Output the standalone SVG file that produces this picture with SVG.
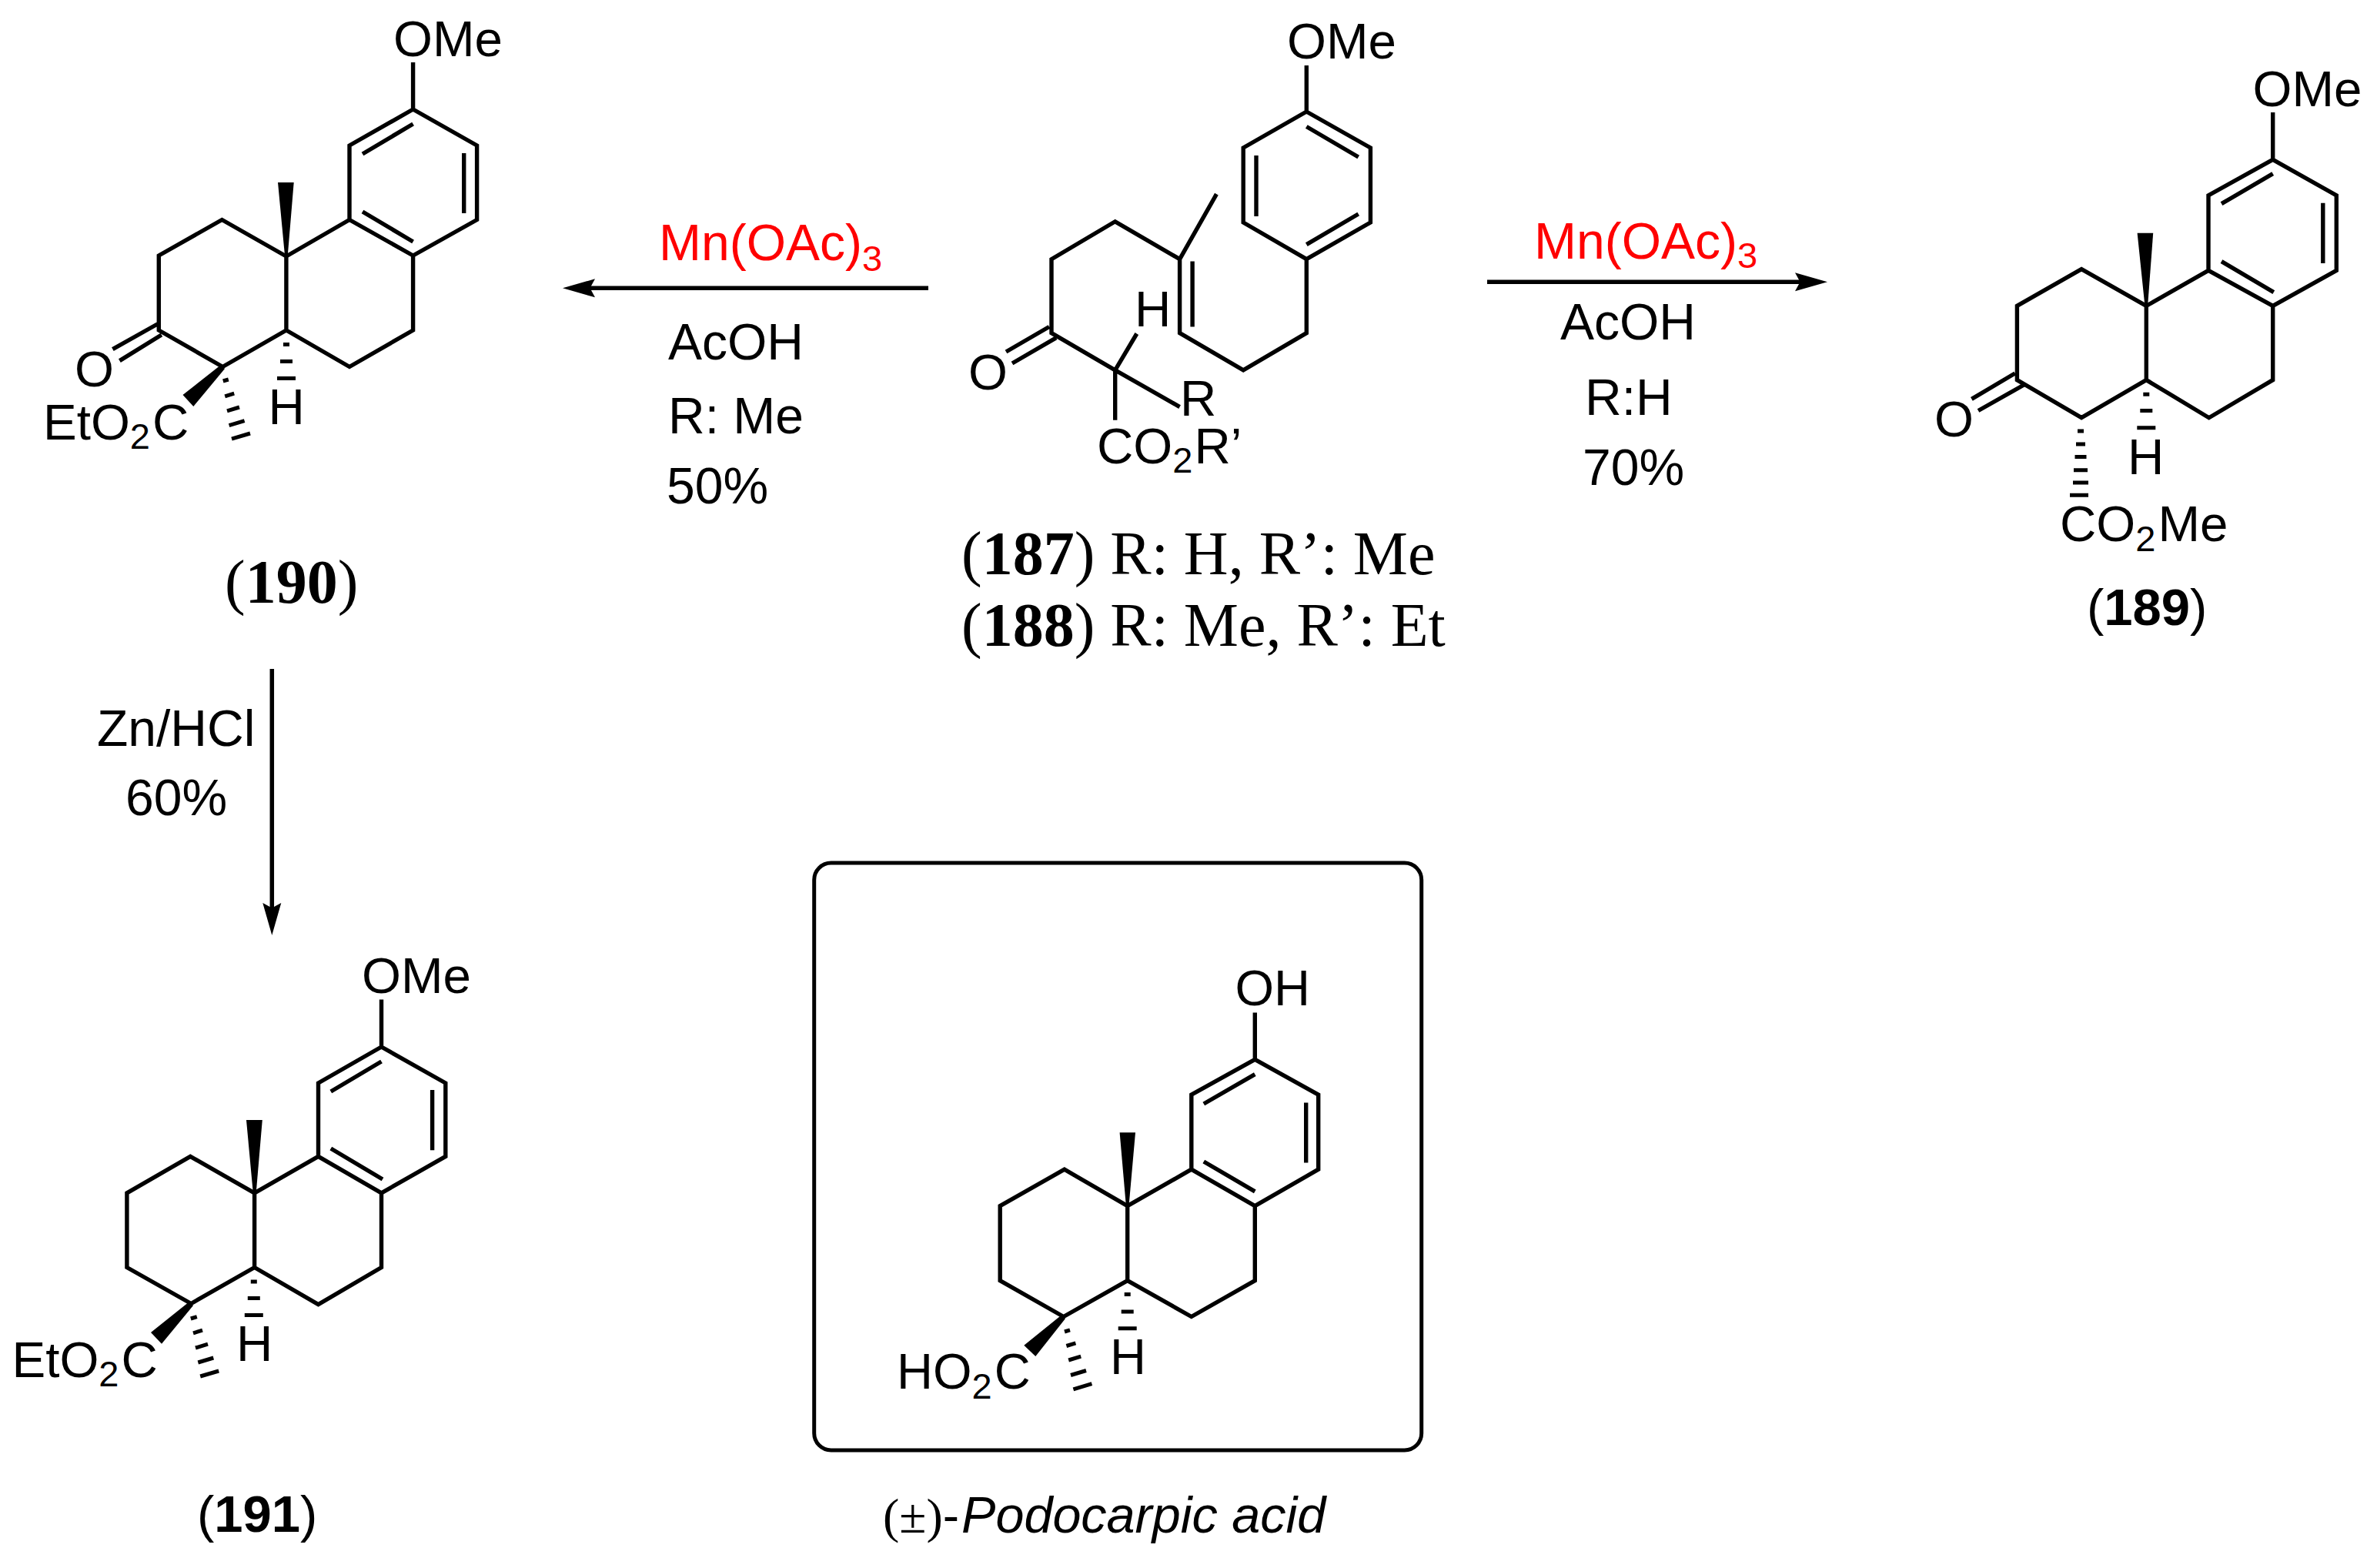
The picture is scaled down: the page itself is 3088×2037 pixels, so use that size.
<svg xmlns="http://www.w3.org/2000/svg" width="3088" height="2037" viewBox="0 0 3088 2037">
<style>
text{font-family:"Liberation Sans",Arial,sans-serif;font-size:65.5px;fill:#000}
.b{fill:none;stroke:#000;stroke-width:5.4;stroke-linejoin:miter;stroke-linecap:butt}
.h{fill:none;stroke:#000;stroke-width:5}
.w{fill:#000;stroke:none}
.r{font-size:66px}
.red{fill:#f00}
.sub{font-size:47px}
.t{font-family:"Liberation Serif","Times New Roman",serif;font-size:80px}
.tb{font-weight:bold}
.ab{font-size:67px}
.arrow{fill:none;stroke:#000;stroke-width:5.5}
</style>
<defs>
<marker id="head" markerUnits="userSpaceOnUse" markerWidth="44" markerHeight="26" viewBox="0 0 44 26" refX="7" refY="13" orient="auto">
<path d="M0,1 L6.5,13 L0,25 L42,13 Z" fill="#000"/>
</marker>
</defs>
<rect width="3088" height="2037" fill="#fff"/>

<g id="compound-190">
<path class="b" d="M536.6,81V142L619.6,189V285.5L536.6,332L454,285.5V189L536.6,142M536.6,161L471,200M602.7,199V277M471,275L536.6,314M454,285.5L371.9,333L288.4,285.5L206.3,332V429L289.3,476.5L371.9,429V333M371.9,429L454,476.5L536.6,429V332M206.3,420L146.4,453.6M209.8,435L155.4,468.6"/>
<polygon class="w" points="361,237 381.7,237 373.5,335 370.3,335"/>
<polygon class="w" points="287,474 292,479 251.3,528 237.5,513"/>
<path class="h" d="M368,447.6H376M364,469.4H380M360,491.5H384M289.8,495L296.8,493M292.2,514.8L304.2,511.2M295,533.8L311,529M297.6,552.6L317.6,546.6M301,570.2L325,563"/>
<text x="511" y="73">OMe</text>
<text x="97" y="502">O</text>
<text x="348.5" y="551">H</text>
<text x="56" y="571">EtO<tspan class="sub" dy="12">2</tspan><tspan dy="-12" dx="3">C</tspan></text>
</g>

<g id="compound-187-188">
<path class="b" d="M1697.3,85V145L1780.4,192V289L1697.3,336.7L1615.2,289V192L1697.3,145M1697.3,164.5L1764.7,204M1632,202V281M1764.7,278L1697.3,317.6M1697.3,336.7V432.7L1615.2,480.8L1532.6,432.7V336.7M1549.1,339.6V424.5M1532.6,336.7L1580.4,252.2M1532.6,336.7L1448.7,287.8L1366,336.7V432.7L1448.7,480.8M1363,424.5L1307,457M1372,438.8L1315,472M1448.7,480.8L1476.8,433.5M1448.7,480.8L1532.6,528.6M1448.7,480.8V545.7"/>
<text x="1672" y="76">OMe</text>
<text x="1258" y="506">O</text>
<text x="1474" y="423.7">H</text>
<text x="1533" y="539.6">R</text>
<text x="1425" y="602">CO<tspan class="sub" dy="12">2</tspan><tspan dy="-12" dx="2">R’</tspan></text>
<text class="t" x="1249" y="745.7">(<tspan class="tb">187</tspan>) R: H, R’: Me</text>
<text class="t" x="1249" y="839.3">(<tspan class="tb">188</tspan>) R: Me, R’: Et</text>
</g>

<g id="compound-189">
<path class="b" d="M2952.7,145.9V207.4L3035.3,253.8V351.4L2952.7,397.4L2869,351.4V253.8L2952.7,207.4M2952.7,225.7L2886,264.7M3017.8,263.8V341.9M2886,339.7L2953.8,379.6M2869,351.4L2788.3,397.4L2704.1,349.7L2620.4,397.4V493.6L2704.1,542.7L2788.3,493.6V397.4M2788.3,493.6L2869.7,542.7L2952.7,493.6V397.4M2617.7,485L2561.4,518.4M2629.3,500L2570,533.5"/>
<polygon class="w" points="2776.6,302.8 2797.2,302.8 2790,399 2786.6,399"/>
<path class="h" d="M2784.3,512.3H2792.3M2780.3,533.5H2796.3M2776.3,555.7H2800.3M2699,560H2707M2697,577H2709M2695.5,593.4H2710.5M2694,610.7H2712M2693,627H2713M2689,643.3H2713"/>
<text x="2926.5" y="138">OMe</text>
<text x="2513" y="567">O</text>
<text x="2764" y="616">H</text>
<text x="2676" y="703">CO<tspan class="sub" dy="13">2</tspan><tspan dy="-13" dx="3">Me</tspan></text>
<text class="ab" x="2711" y="811.7">(<tspan class="tb">189</tspan>)</text>
</g>

<g id="label-190"><text class="t" x="292" y="782.8">(<tspan class="tb">190</tspan>)</text></g>

<g id="compound-191">
<path class="b" d="M495.5,1298.4V1360L578.8,1407V1502.4L495.5,1549.8L413.5,1502.4V1407L495.5,1360M495.5,1379L429.8,1418M561.6,1416V1494.3M429.8,1492L497,1532M413.5,1502.4L330.6,1549.8L247.3,1502.4L164.9,1549.8V1646.5L248.2,1693.5L330.6,1646.5V1549.8M330.6,1646.5L413.5,1694.7L495.5,1646.5V1549.8"/>
<polygon class="w" points="320,1455 340.8,1455 332.5,1552 329,1552"/>
<polygon class="w" points="246,1691 251,1696 210,1745.7 196,1731"/>
<path class="h" d="M325.8,1665H333.8M321.8,1686.5H337.8M317.8,1708.6H341.8M247.8,1713L255.8,1710.6M251,1731.8L263,1728.2M254,1751L270,1746.2M257.3,1770L277.3,1764M260.2,1788L284.2,1781"/>
<text x="470" y="1290">OMe</text>
<text x="307" y="1768">H</text>
<text x="15.5" y="1788.6">EtO<tspan class="sub" dy="12">2</tspan><tspan dy="-12" dx="3">C</tspan></text>
<text class="ab" x="256" y="1990">(<tspan class="tb">191</tspan>)</text>
</g>

<g id="podocarpic-acid">
<rect x="1057.7" y="1121" width="789" height="763" rx="22" ry="22" fill="none" stroke="#000" stroke-width="5"/>
<path class="b" d="M1630.3,1315.6V1376.3L1712.7,1422.2V1519.2L1630.3,1566.6L1547.8,1519.2V1422.2L1630.3,1376.3M1630.3,1395.7L1563.8,1434M1696.7,1432.4V1510.5M1563.8,1509L1630.3,1547.8M1547.8,1519.2L1464.7,1566.6L1382.8,1519.2L1299.2,1566.6V1663.6L1381.7,1710.5L1464.7,1663.6V1566.6M1464.7,1663.6L1547.8,1710.5L1630.3,1663.6V1566.6"/>
<polygon class="w" points="1454.6,1471.2 1475,1471.2 1466.4,1568 1463,1568"/>
<polygon class="w" points="1379.5,1708 1384,1713 1345.3,1762 1330.3,1747.8"/>
<path class="h" d="M1460.7,1681.4H1468.7M1456.7,1703.9H1472.7M1452.7,1725.8H1476.7M1383,1730L1390,1727.9M1385.4,1748.5L1397.4,1744.9M1388.2,1767L1404.2,1762.2M1391,1786.5L1411,1780.5M1394.4,1804.9L1418.4,1797.7"/>
<text x="1604.5" y="1306.4" style="font-size:65px">OH</text>
<text x="1442" y="1785" style="font-size:65px">H</text>
<text x="1165" y="1803.9" style="font-size:65px">HO<tspan class="sub" dy="13">2</tspan><tspan dy="-13" dx="3">C</tspan></text>
<text x="1147" y="1991" style="font-size:64px"><tspan style="font-family:'Liberation Serif',serif">(±)</tspan><tspan>-</tspan><tspan font-style="italic" dx="3" style="font-size:66.5px">Podocarpic acid</tspan></text>
</g>

<g id="reagents-left">
<text class="r red" x="856" y="338.3">Mn(OAc)<tspan class="sub" dy="13.4" style="fill:#f00">3</tspan></text>
<text class="r" x="868" y="467.3">AcOH</text>
<text class="r" x="868" y="562.7">R: Me</text>
<text class="r" x="866" y="654">50%</text>
</g>
<g id="reagents-right">
<text class="r red" x="1993" y="335.7">Mn(OAc)<tspan class="sub" dy="12" style="fill:#f00">3</tspan></text>
<text class="r" x="2027" y="440.7">AcOH</text>
<text class="r" x="2059" y="539.3">R:H</text>
<text class="r" x="2056" y="630">70%</text>
</g>
<g id="reagents-down">
<text class="r" x="126" y="969">Zn/HCl</text>
<text class="r" x="163" y="1058.6">60%</text>
</g>

<g id="connectors">
<line class="arrow" x1="1206" y1="374.3" x2="766" y2="374.3" marker-end="url(#head)"/>
<line class="arrow" x1="1932" y1="366.3" x2="2339" y2="366.3" marker-end="url(#head)"/>
<line class="arrow" x1="353.3" y1="869" x2="353.3" y2="1180" marker-end="url(#head)"/>
</g>
</svg>
